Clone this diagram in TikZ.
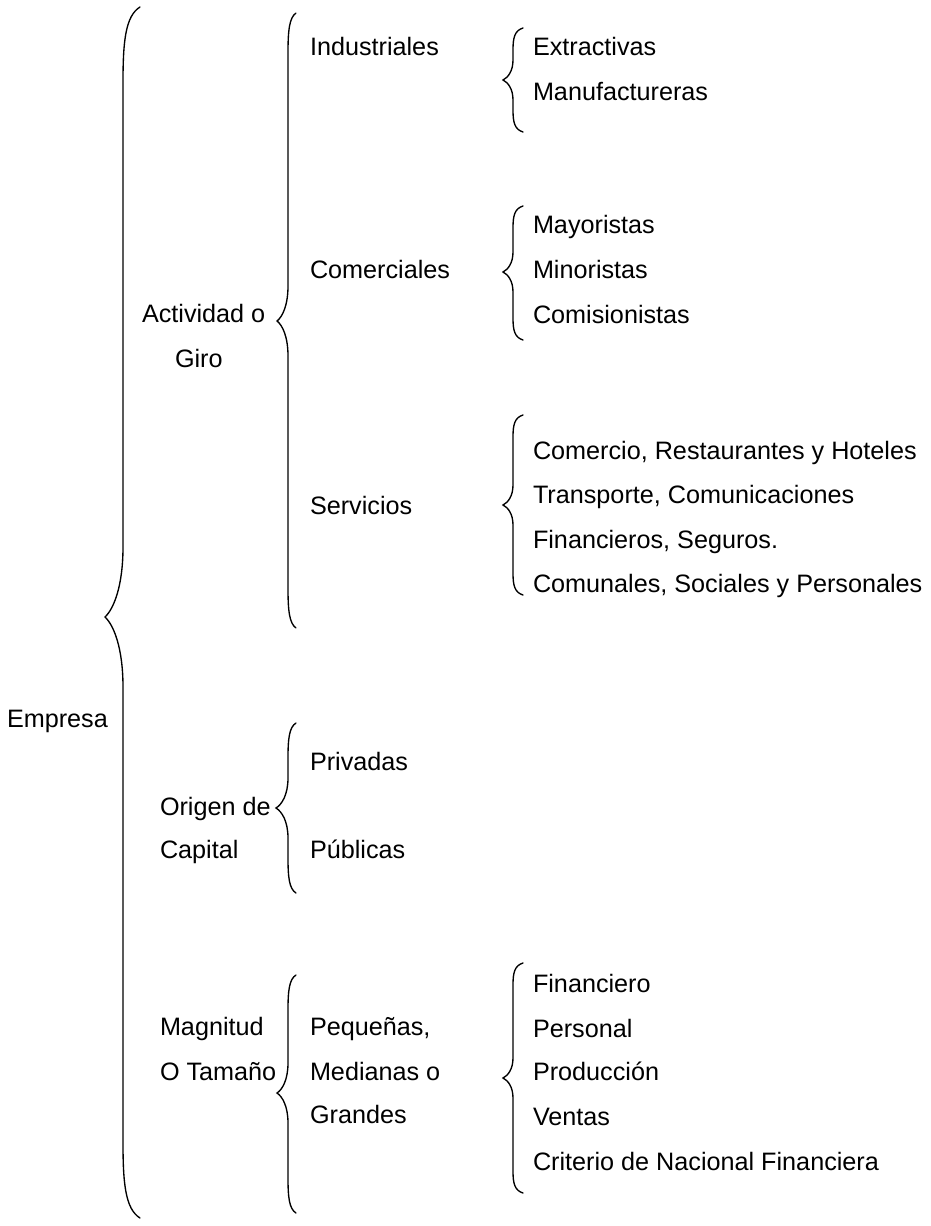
\documentclass[tikz,border=0pt]{standalone}
\usepackage{fontspec}
\setmainfont{Liberation Sans}
\tikzset{
  lbl/.style={anchor=base west, inner sep=0pt, outer sep=0pt, font=\fontsize{25.2}{30}\selectfont, text=black},
  bracestyle/.style={draw=black, line width=1.35pt, line cap=round}
}
% #1 xline, #2 ytop, #3 ymid, #4 ybot, #5 hook width, #6 hook length, #7 tip depth, #8 tip length
\newcommand\mybrace[8]{%
  \draw[bracestyle] (#1+#5,#2) .. controls (#1+0.15*#5,#2+0.12*#6) and (#1,#2+0.45*#6) .. (#1,#2+#6)
    -- (#1,#3-#8) .. controls (#1,#3-0.45*#8) and (#1-0.5*#7,#3-0.12*#8) .. (#1-#7,#3)
    .. controls (#1-0.5*#7,#3+0.12*#8) and (#1,#3+0.45*#8) .. (#1,#3+#8)
    -- (#1,#4-#6) .. controls (#1,#4-0.45*#6) and (#1+0.15*#5,#4-0.12*#6) .. (#1+#5,#4);
}
\begin{document}
\begin{tikzpicture}[x=1pt,y=-1pt]
\useasboundingbox (0,0) rectangle (931,1226);
\fill[white] (0,0) rectangle (931,1226);

% braces
\mybrace{123}{7}{617}{1218}{17}{75}{18}{70}
\mybrace{288}{13}{321}{628}{8}{40}{11}{35}
\mybrace{288}{723}{808}{893}{8}{35}{12}{30}
\mybrace{288}{975}{1093}{1213}{8}{35}{11}{30}
\mybrace{513}{28}{80}{132}{10}{22}{10}{20}
\mybrace{513}{206}{272}{340}{10}{22}{10}{20}
\mybrace{513}{415}{505}{595}{10}{22}{10}{20}
\mybrace{513}{963}{1078}{1193}{10}{22}{10}{20}

% level 0
\node[lbl] (empresa) at (7,727) {Empresa};

% level 1
\node[lbl] (actividad) at (142,322) {Actividad o};
\node[lbl] (giro) at (175,367) {Giro};
\node[lbl] (origen) at (160,815) {Origen de};
\node[lbl] (capital) at (160,858) {Capital};
\node[lbl] (magnitud) at (160,1035) {Magnitud};
\node[lbl] (tamano) at (160,1080) {O Tamaño};

% level 2
\node[lbl] (industriales) at (310,55) {Industriales};
\node[lbl] (comerciales) at (310,278) {Comerciales};
\node[lbl] (servicios) at (310,514) {Servicios};
\node[lbl] (privadas) at (310,770) {Privadas};
\node[lbl] (publicas) at (310,858) {Públicas};
\node[lbl] (pequenas) at (310,1035) {Pequeñas,};
\node[lbl] (medianas) at (310,1080) {Medianas o};
\node[lbl] (grandes) at (310,1123) {Grandes};

% level 3
\node[lbl] (extractivas) at (533,55) {Extractivas};
\node[lbl] (manufactureras) at (533,100) {Manufactureras};
\node[lbl] (mayoristas) at (533,233) {Mayoristas};
\node[lbl] (minoristas) at (533,278) {Minoristas};
\node[lbl] (comisionistas) at (533,323) {Comisionistas};
\node[lbl] (comercio) at (533,459) {Comercio, Restaurantes y Hoteles};
\node[lbl] (transporte) at (533,503) {Transporte, Comunicaciones};
\node[lbl] (financieros) at (533,548) {Financieros, Seguros.};
\node[lbl] (comunales) at (533,592) {Comunales, Sociales y Personales};
\node[lbl] (financiero) at (533,992) {Financiero};
\node[lbl] (personal) at (533,1037) {Personal};
\node[lbl] (produccion) at (533,1080) {Producción};
\node[lbl] (ventas) at (533,1125) {Ventas};
\node[lbl] (criterio) at (533,1170) {Criterio de Nacional Financiera};
\end{tikzpicture}
\end{document}
